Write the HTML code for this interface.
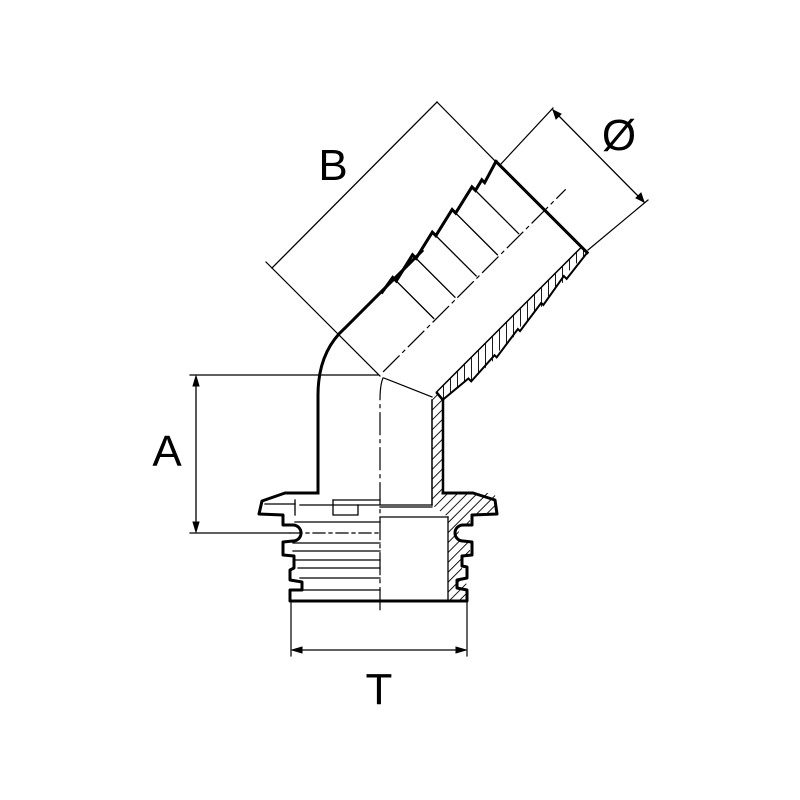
<!DOCTYPE html>
<html><head><style>html,body{margin:0;padding:0;background:#fff}svg{display:block}</style></head>
<body>
<svg width="800" height="800" viewBox="0 0 800 800" xmlns="http://www.w3.org/2000/svg">
<defs>
<pattern id="h" width="7" height="7" patternUnits="userSpaceOnUse" patternTransform="rotate(45)">
<line x1="0" y1="0" x2="0" y2="7" stroke="#000" stroke-width="1.8"/>
</pattern>
</defs>
<rect width="800" height="800" fill="#fff"/>
<g fill="none" stroke="#000" stroke-linecap="square">
<line x1="190" y1="375" x2="378" y2="375" stroke-width="1.2"/>
<line x1="190" y1="533" x2="290" y2="533" stroke-width="1.2"/>
<line x1="196" y1="378" x2="196" y2="530" stroke-width="1.3"/>
<path d="M196 376 l-3 10 h6z M196 532 l-3 -10 h6z" fill="#000"/>
<line x1="291" y1="600" x2="291" y2="656" stroke-width="1.2"/>
<line x1="467" y1="600" x2="467" y2="656" stroke-width="1.2"/>
<line x1="293" y1="650" x2="465" y2="650" stroke-width="1.3"/>
<path d="M292 650 l10 -3 v6z M466 650 l-10 -3 v6z" fill="#000"/>
<line x1="272" y1="268" x2="437" y2="102" stroke-width="1.3"/>
<line x1="266" y1="262" x2="380" y2="376" stroke-width="1.2"/>
<line x1="437" y1="102" x2="502" y2="168" stroke-width="1.2"/>
<line x1="500" y1="165" x2="553" y2="108" stroke-width="1.2"/>
<line x1="588" y1="250" x2="648" y2="200" stroke-width="1.2"/>
<line x1="553" y1="110" x2="644" y2="202" stroke-width="1.3"/>
<path d="M553 110 l3 9 l5 -5z M644 202 l-3 -9 l-5 5z" fill="#000"/>

<g transform="translate(380,375) rotate(-45)">
 <path d="M28 52 L233 52 L233 60 L200 60 L200 64 L165 63 L165 66 L130 65 L130 68 L95 67 L95 70 L60 69 L60 65 L28 62 Z" fill="url(#h)" stroke="none"/>
 <path d="M28 62 L60 65 L60 69 L95 67 L95 70 L130 65 L130 68 L165 63 L165 66 L200 60 L200 64 L233 60" stroke-width="2"/>
 <line x1="28" y1="52" x2="233" y2="52" stroke-width="1.5"/>
 <path d="M60 -57 L78 -60 L78 -55 L108 -62 L108 -57 L138 -64 L138 -59 L168 -66 L168 -61 L198 -68 L198 -63 L210 -66 L210 -62 L233 -69" stroke-width="3"/>
 <line x1="233" y1="-69" x2="233" y2="60" stroke-width="3"/>
 <g stroke-width="1.3">
  <line x1="78" y1="-55" x2="78" y2="-2"/>
  <line x1="108" y1="-57" x2="108" y2="-2"/>
  <line x1="138" y1="-59" x2="138" y2="-2"/>
  <line x1="168" y1="-61" x2="168" y2="-2"/>
  <line x1="198" y1="-63" x2="198" y2="-2"/>
 </g>
 <line x1="5" y1="0" x2="262" y2="0" stroke-width="1.2" stroke-dasharray="22 5 3 5"/>
</g>
<path d="M318 493 L318 395 Q318 352 345 328 L422 251" stroke-width="3"/>
<path d="M432 400 L437 393 L443 400 L443 493 L432 493Z" fill="url(#h)" stroke="none"/>
<path d="M437 393 L443 400 L443 493" stroke-width="2.5"/>
<line x1="432" y1="400" x2="432" y2="505" stroke-width="1.5"/>
<line x1="384" y1="378" x2="432" y2="397" stroke-width="1.2"/>
<path d="M383 378 Q380 385 380 400 L380 610" stroke-width="1.2" stroke-dasharray="22 5 3 5"/>

<path d="M432 493 L443 493 L495 493 L496 513 L470 515 L470 525 L462 527 A8 8 0 0 0 462 540 L470 542 L470 555 L462 556 L462 582 L467 584 L467 600 L448 600 L448 517 L432 505Z" fill="url(#h)" stroke="none"/>
<path d="M318 493 L285 493 L262 501 L259 514 L283 515 L283 525 L293 525 A8 8 0 0 1 293 541 L283 542 L283 555 L294 556 L294 568 L290 570 L290 580 L302 582 L302 590 L290 590 L290 601 L467 601 L467 590 L457 588 L457 580 L467 578 L467 567 L462 566 L462 556 L472 555 L472 542 L463 541 A8 8 0 0 1 463 525 L472 525 L472 515 L497 514 L495 500 L473 493 L443 493" stroke-width="3" stroke-linejoin="round"/>
<g stroke-width="1.3">
 <line x1="300" y1="505" x2="432" y2="505"/>
 <line x1="380" y1="507" x2="432" y2="507"/>
 <line x1="380" y1="517" x2="448" y2="517"/>
 <line x1="448" y1="517" x2="448" y2="600"/>
 <path d="M333 500 L333 515 L358 515 L358 505"/>
 <line x1="333" y1="500" x2="380" y2="500"/>
 <line x1="295" y1="522" x2="380" y2="522"/>
 <line x1="293" y1="543" x2="380" y2="543"/>
 <line x1="293" y1="551" x2="380" y2="551"/>
 <line x1="295" y1="560" x2="380" y2="560"/>
 <line x1="298" y1="568" x2="380" y2="568"/>
 <line x1="300" y1="578" x2="380" y2="578"/>
 <line x1="300" y1="590" x2="380" y2="590"/>
 <line x1="265" y1="504" x2="295" y2="504"/>
 <line x1="295" y1="500" x2="295" y2="515"/>
 <line x1="290" y1="533" x2="380" y2="533" stroke-dasharray="12 4 3 4"/>
</g>
</g>
<g font-family="Liberation Sans, sans-serif" font-size="44" fill="#000" text-anchor="middle">
<text x="333" y="180">B</text>
<text x="619" y="150">Ø</text>
<text x="167" y="466">A</text>
<text x="379" y="704">T</text>
</g>
</svg>
</body></html>
